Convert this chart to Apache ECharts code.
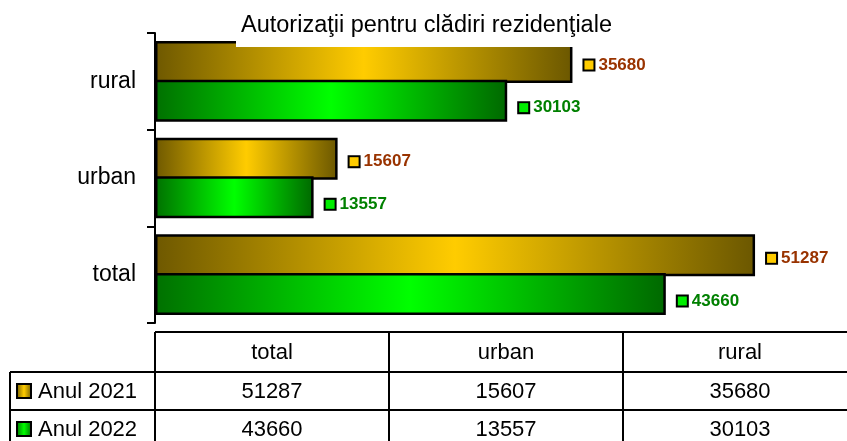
<!DOCTYPE html>
<html>
<head>
    <meta charset="utf-8">
    <title>ECharts</title>
    <script src="https://cdn.jsdelivr.net/npm/echarts@6/dist/echarts.min.js"></script>
    <style>
        *{margin: 0;padding: 0;}
        body{background: #fff;}
    </style>
</head>
<body>
    <div id="main" style="width: 847px;height:441px;"></div>
    <script type="text/javascript">
        // data
        var titleText = 'Autorizaţii pentru clădiri rezidenţiale';
        var categories = ['total', 'urban', 'rural'];
        var seriesNames = ['Anul 2021', 'Anul 2022'];
        var values2021 = [51287, 15607, 35680];
        var values2022 = [43660, 13557, 30103];

        var font = 'Arial, "Liberation Sans", sans-serif';

        function grad(dark, light, dark2) {
            return new echarts.graphic.LinearGradient(0, 0, 1, 0, [
                {offset: 0, color: dark},
                {offset: 0.5, color: light},
                {offset: 1, color: dark2}
            ]);
        }
        var goldFill = grad('#6e5800', '#ffcc00', '#6b5700');
        var greenFill = grad('#007000', '#00ff00', '#006800');
        var fills = [goldFill, greenFill];
        var markerColors = ['#ffcc00', '#00ee00'];
        var labelColors = ['#993300', '#008000'];

        function labelFor(i, offY) {
            return {
                show: true,
                position: 'right',
                distance: 12,
                offset: [0, offY],
                formatter: function (p) { return '{m| }{v|' + p.value + '}'; },
                rich: {
                    m: {width: 9, height: 9, backgroundColor: markerColors[i], borderColor: '#000', borderWidth: 2},
                    v: {fontSize: 17, fontWeight: 'bold', fontFamily: font, color: labelColors[i], padding: [0, 0, 0, 5]}
                }
            };
        }

        // table below the chart
        var tbl = [];
        var colX = [155, 389, 623, 857];
        var rowY = [332, 372, 410, 448];
        var leftX = 10;
        var line = function (x1, y1, x2, y2) {
            tbl.push({type: 'line', shape: {x1: x1, y1: y1, x2: x2, y2: y2}, style: {stroke: '#000', lineWidth: 2}, z: 10});
        };
        line(colX[0], rowY[0], colX[3], rowY[0]);
        line(leftX, rowY[1], colX[3], rowY[1]);
        line(leftX, rowY[2], colX[3], rowY[2]);
        line(leftX, rowY[3], colX[3], rowY[3]);
        line(leftX, rowY[1], leftX, rowY[3]);
        colX.forEach(function (x) { line(x, rowY[0], x, rowY[3]); });
        var txt = function (s, x, y, align) {
            tbl.push({type: 'text', x: x, y: y, style: {text: s, fill: '#000', font: '22px ' + font, align: align || 'center', verticalAlign: 'middle'}, z: 10});
        };
        var rows = [values2021, values2022];
        categories.forEach(function (c, j) {
            var cx = (colX[j] + colX[j + 1]) / 2;
            txt(c, cx, (rowY[0] + rowY[1]) / 2 + 1);
            rows.forEach(function (r, i) {
                txt(String(r[j]), cx, (rowY[i + 1] + rowY[i + 2]) / 2 + 1);
            });
        });
        seriesNames.forEach(function (n, i) {
            var cy = (rowY[i + 1] + rowY[i + 2]) / 2;
            tbl.push({type: 'rect', shape: {x: 17, y: cy - 7, width: 14, height: 14},
                style: {fill: fills[i], stroke: '#000', lineWidth: 2}, z: 10});
            txt(n, 38, cy + 1, 'left');
        });

        var myChart = echarts.init(document.getElementById('main'));
        var option = {
            animation: false,
            title: {
                text: titleText,
                left: 236,
                top: 0,
                padding: [14, 10, 9, 5],
                backgroundColor: '#fff',
                textStyle: {fontSize: 23.5, fontWeight: 'normal', fontFamily: font, color: '#000'}
            },
            grid: {left: 155, top: 33, bottom: 118, right: 48.5},
            xAxis: {type: 'value', min: 0, max: 55000, show: false},
            yAxis: {
                type: 'category',
                data: categories,
                axisLine: {lineStyle: {color: '#000', width: 2}},
                axisTick: {show: true, length: 8, lineStyle: {color: '#000', width: 2}},
                axisLabel: {fontSize: 23, fontFamily: font, color: '#000', margin: 19}
            },
            series: [
                {
                    name: seriesNames[0], type: 'bar', data: values2021,
                    barWidth: 42, barGap: '-8%',
                    itemStyle: {color: goldFill, borderColor: '#000', borderWidth: 2.5},
                    label: labelFor(0, 3)
                },
                {
                    name: seriesNames[1], type: 'bar', data: values2022,
                    barWidth: 42, barGap: '-8%',
                    itemStyle: {color: greenFill, borderColor: '#000', borderWidth: 2.5},
                    label: labelFor(1, 7)
                }
            ],
            graphic: tbl
        };
        myChart.setOption(option);
    </script>
</body>
</html>
